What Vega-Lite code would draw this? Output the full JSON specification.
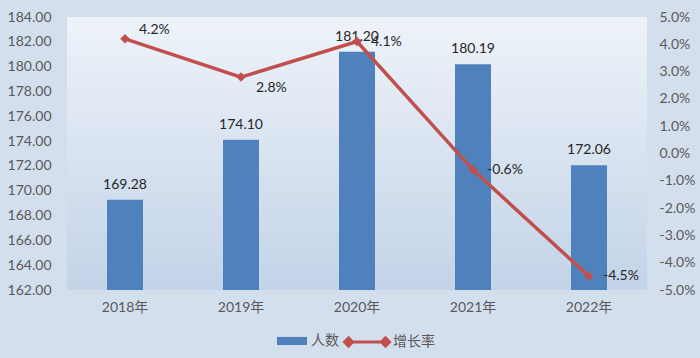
{
  "$schema": "https://vega.github.io/schema/vega-lite/v6.json",
  "width": 580,
  "height": 273,
  "autosize": "none",
  "padding": {"left": 67, "top": 17, "right": 53, "bottom": 68},
  "background": "#d4dfee",
  "config": {
    "view": {"stroke": null, "fill": {"gradient": "linear", "x1": 0, "y1": 0, "x2": 0, "y2": 1, "stops": [{"offset": 0, "color": "#eef3f9"}, {"offset": 1, "color": "#c3d3e8"}]}},
    "font": "Lato, Noto Sans CJK SC",
    "axis": {"labelFont": "Lato, Noto Sans CJK SC", "labelFontSize": 14, "labelColor": "#595959", "labelOverlap": false, "domain": false, "ticks": false, "grid": false, "title": null}
  },
  "data": {
    "values": [
      {"year": "2018年", "people": 169.28, "growth": 4.2},
      {"year": "2019年", "people": 174.10, "growth": 2.8},
      {"year": "2020年", "people": 181.20, "growth": 4.1},
      {"year": "2021年", "people": 180.19, "growth": -0.6},
      {"year": "2022年", "people": 172.06, "growth": -4.5}
    ]
  },
  "encoding": {
    "x": {"field": "year", "type": "nominal", "sort": null, "scale": {"paddingInner": 0, "paddingOuter": 0}, "axis": {"labelAngle": 0, "labelPadding": 10, "title": null}}
  },
  "layer": [
    {
      "layer": [
        {
          "mark": {"type": "bar", "size": 36},
          "encoding": {
            "y": {"field": "people", "type": "quantitative", "scale": {"domain": [162, 184], "zero": false, "nice": false}, "axis": {"values": [162,164,166,168,170,172,174,176,178,180,182,184], "tickCount": 20, "format": ".2f", "labelOverlap": false, "labelFlush": false, "labelPadding": 16, "title": null}},
            "y2": {"datum": 162},
            "fill": {"datum": "人数", "type": "nominal", "scale": {"range": ["#4f81bd"]}, "legend": {"orient": "none", "legendX": 210, "legendY": 309, "title": null, "symbolType": "M-1,-0.27H1V0.27H-1Z", "symbolSize": 900, "symbolStrokeWidth": 0, "labelFont": "Noto Sans CJK SC", "labelFontSize": 14, "labelColor": "#595959", "labelOffset": 4}}
          }
        },
        {
          "mark": {"type": "text", "dy": -15, "fontSize": 14, "color": "#262626", "font": "Lato"},
          "encoding": {
            "y": {"field": "people", "type": "quantitative"},
            "text": {"field": "people", "type": "quantitative", "format": ".2f"}
          }
        }
      ]
    },
    {
      "layer": [
        {
          "mark": {"type": "line", "strokeWidth": 3.5},
          "encoding": {
            "y": {"field": "growth", "type": "quantitative", "scale": {"domain": [-5, 5], "nice": false}, "axis": {"orient": "right", "values": [-5,-4,-3,-2,-1,0,1,2,3,4,5], "tickCount": 20, "labelExpr": "replace(format(datum.value, '.1f'), '−', '-') + '%'", "labelOverlap": false, "labelFlush": false, "labelPadding": 12, "title": null}},
            "stroke": {"datum": "增长率", "type": "nominal", "scale": {"range": ["#c0504d"]}, "legend": {"orient": "none", "legendX": 276, "legendY": 301, "title": null, "symbolType": "M-0.8,0H0.8M-1,0L-0.82,-0.18L-0.64,0L-0.82,0.18ZM0.64,0L0.82,-0.18L1,0L0.82,0.18Z", "symbolSize": 2025, "symbolStrokeWidth": 3, "symbolFillColor": "#c0504d", "labelFont": "Noto Sans CJK SC", "labelFontSize": 14, "labelColor": "#595959", "labelOffset": 2}}
          }
        },
        {
          "mark": {"type": "point", "shape": "diamond", "filled": true, "size": 90, "color": "#c0504d", "opacity": 1},
          "encoding": {"y": {"field": "growth", "type": "quantitative"}}
        },
        {
          "transform": [{"filter": "datum.year == '2018年'"}],
          "mark": {"type": "text", "align": "left", "dx": 14, "dy": -9, "fontSize": 14, "color": "#262626", "font": "Lato", "text": {"expr": "replace(format(datum.growth, '.1f'), '−', '-') + '%'"}},
          "encoding": {"y": {"field": "growth", "type": "quantitative"}}
        },
        {
          "transform": [{"filter": "datum.year == '2019年'"}],
          "mark": {"type": "text", "align": "left", "dx": 15, "dy": 11, "fontSize": 14, "color": "#262626", "font": "Lato", "text": {"expr": "replace(format(datum.growth, '.1f'), '−', '-') + '%'"}},
          "encoding": {"y": {"field": "growth", "type": "quantitative"}}
        },
        {
          "transform": [{"filter": "datum.year != '2018年' && datum.year != '2019年'"}],
          "mark": {"type": "text", "align": "left", "dx": 14, "dy": 0, "fontSize": 14, "color": "#262626", "font": "Lato", "text": {"expr": "replace(format(datum.growth, '.1f'), '−', '-') + '%'"}},
          "encoding": {"y": {"field": "growth", "type": "quantitative"}}
        }
      ]
    }
  ],
  "resolve": {"scale": {"y": "independent", "fill": "independent", "stroke": "independent"}}
}
